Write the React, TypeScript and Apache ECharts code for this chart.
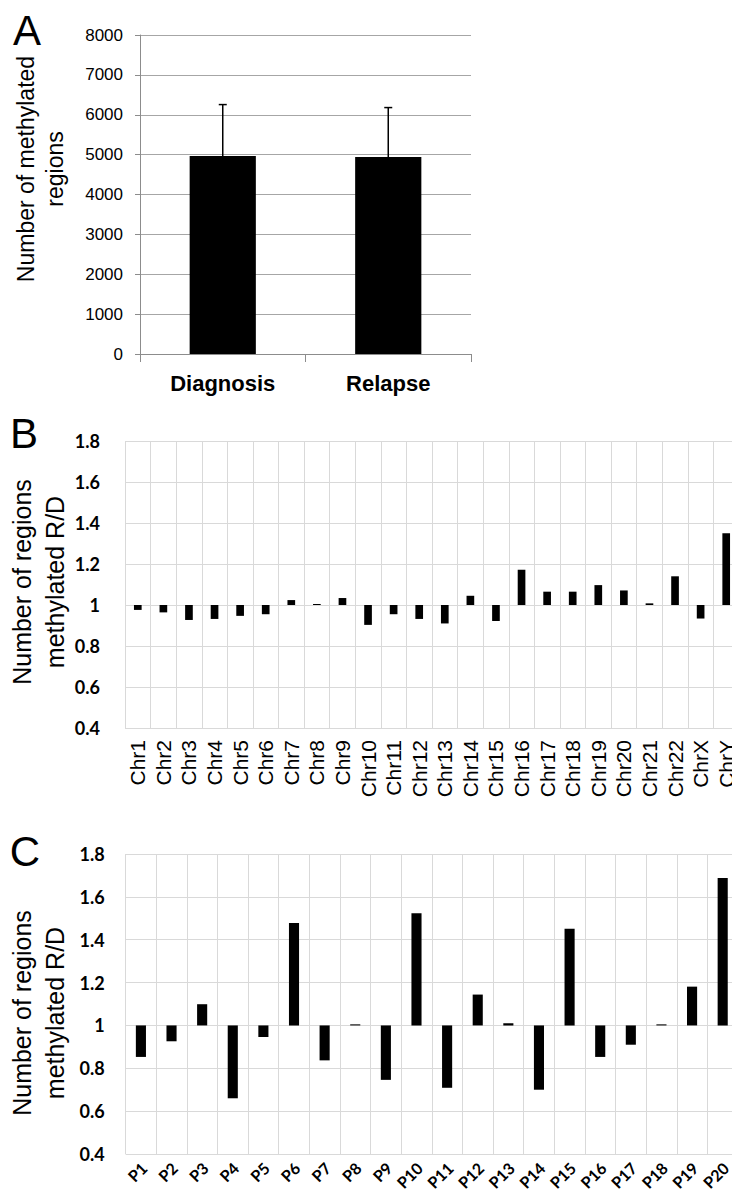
import React, { useEffect, useRef } from "react";
import * as echarts from "echarts";

const aCategories = ["Diagnosis", "Relapse"];
const aMeans = [4965, 4940];
const aErrors = [1290, 1240];

const bCategories = [
  "Chr1", "Chr2", "Chr3", "Chr4", "Chr5", "Chr6", "Chr7", "Chr8", "Chr9", "Chr10",
  "Chr11", "Chr12", "Chr13", "Chr14", "Chr15", "Chr16", "Chr17", "Chr18", "Chr19", "Chr20",
  "Chr21", "Chr22", "ChrX", "ChrY",
];
const bRatios = [
  0.976, 0.964, 0.927, 0.932, 0.947, 0.955, 1.024, 1.005, 1.034, 0.903,
  0.955, 0.932, 0.91, 1.045, 0.922, 1.172, 1.065, 1.065, 1.097, 1.071,
  1.008, 1.14, 0.934, 1.35,
];

const cCategories = [
  "P1", "P2", "P3", "P4", "P5", "P6", "P7", "P8", "P9", "P10",
  "P11", "P12", "P13", "P14", "P15", "P16", "P17", "P18", "P19", "P20",
];
const cRatios = [
  0.853, 0.926, 1.099, 0.66, 0.946, 1.478, 0.837, 1.005, 0.746, 1.523,
  0.709, 1.144, 1.01, 0.7, 1.451, 0.853, 0.91, 1.005, 1.181, 1.688,
];

const ratioBaseline = 1;
const ratioMin = 0.4;

const ARIAL = "'Liberation Sans', Arial, sans-serif";
const CALIBRI = "Lato, 'Noto Sans', sans-serif";

function ratioBar(widthRatio: number) {
  return (params: any, api: any) => {
    const i = api.value(0);
    const v = api.value(1);
    const p0 = api.coord([i, ratioBaseline]);
    const p1 = api.coord([i, v]);
    const w = api.size([1, 0])[0] * widthRatio;
    const h = Math.max(Math.abs(p1[1] - p0[1]), 1);
    return {
      type: "rect",
      shape: { x: p0[0] - w / 2, y: Math.min(p0[1], p1[1]), width: w, height: h },
      style: { fill: "#000" },
    };
  };
}

function vText(x: number, y: number, text: string, size: number) {
  return {
    type: "text",
    x,
    y,
    rotation: Math.PI / 2,
    style: { text, fontFamily: ARIAL, fontSize: size, fill: "#000", textAlign: "center", textVerticalAlign: "middle" },
  };
}

export default function App() {
  const ref = useRef<HTMLDivElement>(null);

  useEffect(() => {
    if (!ref.current) return;
    const chart = echarts.init(ref.current, null, { renderer: "svg" });

    const ratioYAxis = (gridIndex: number, margin: number) => ({
      type: "value",
      gridIndex,
      min: ratioMin,
      max: 1.8,
      interval: 0.2,
      axisLine: { show: false },
      axisTick: { show: false },
      axisLabel: {
        margin,
        color: "#000",
        fontFamily: CALIBRI,
        fontWeight: "bold",
        fontSize: 18,
      },
      splitLine: { show: true, lineStyle: { color: "#d9d9d9", width: 1 } },
    });

    const gridCommon = { containLabel: false, outerBoundsMode: "none" };

    const option: any = {
      animation: false,
      backgroundColor: "#fff",
      grid: [
        { ...gridCommon, left: 140, right: 261, top: 35, bottom: 845 },
        { ...gridCommon, left: 125, right: -7, top: 441, bottom: 471 },
        { ...gridCommon, left: 125.6, right: -6, top: 854, bottom: 45 },
      ],
      xAxis: [
        {
          type: "category",
          gridIndex: 0,
          data: aCategories,
          axisLine: { show: true, lineStyle: { color: "#8c8c8c", width: 1 } },
          axisTick: { show: true, length: 8, lineStyle: { color: "#8c8c8c" } },
          axisLabel: {
            margin: 18,
            color: "#000",
            fontFamily: ARIAL,
            fontWeight: "bold",
            fontSize: 22,
          },
        },
        {
          type: "category",
          gridIndex: 1,
          data: bCategories,
          axisLine: { show: false },
          axisTick: { show: false },
          splitLine: { show: true, interval: 0, lineStyle: { color: "#d9d9d9", width: 1 } },
          axisLabel: { show: false },
        },
        {
          type: "category",
          gridIndex: 2,
          data: cCategories,
          axisLine: { show: false },
          axisTick: { show: false },
          splitLine: { show: true, interval: 0, lineStyle: { color: "#d9d9d9", width: 1 } },
          axisLabel: { show: false },
        },
      ],
      yAxis: [
        {
          type: "value",
          gridIndex: 0,
          min: 0,
          max: 8000,
          interval: 1000,
          axisLine: { show: true, lineStyle: { color: "#8c8c8c", width: 1 } },
          axisTick: { show: true, length: 5, lineStyle: { color: "#8c8c8c" } },
          axisLabel: {
            margin: 17,
            color: "#000",
            fontFamily: ARIAL,
            fontSize: 17,
            formatter: (v: number) => String(v),
          },
          splitLine: { show: true, lineStyle: { color: "#a6a6a6", width: 1 } },
        },
        ratioYAxis(1, 25),
        ratioYAxis(2, 21),
      ],
      series: [
        {
          type: "bar",
          xAxisIndex: 0,
          yAxisIndex: 0,
          data: aMeans,
          barWidth: "40%",
          itemStyle: { color: "#000" },
          z: 2,
        },
        {
          type: "custom",
          xAxisIndex: 0,
          yAxisIndex: 0,
          z: 3,
          data: aMeans.map((m, i) => [i, m, aErrors[i]]),
          encode: { x: 0, y: 1 },
          renderItem: (params: any, api: any) => {
            const i = api.value(0);
            const m = api.value(1);
            const e = api.value(2);
            const base = api.coord([i, m]);
            const top = api.coord([i, m + e]);
            return {
              type: "group",
              children: [
                {
                  type: "line",
                  shape: { x1: base[0], y1: base[1], x2: top[0], y2: top[1] },
                  style: { stroke: "#000", lineWidth: 1.5 },
                },
                {
                  type: "line",
                  shape: { x1: top[0] - 4, y1: top[1], x2: top[0] + 4, y2: top[1] },
                  style: { stroke: "#000", lineWidth: 1.5 },
                },
              ],
            };
          },
        },
        {
          type: "custom",
          xAxisIndex: 1,
          yAxisIndex: 1,
          data: bRatios.map((v, i) => [i, v]),
          encode: { x: 0, y: 1 },
          renderItem: ratioBar(0.3),
        },
        {
          type: "custom",
          xAxisIndex: 2,
          yAxisIndex: 2,
          data: cRatios.map((v, i) => [i, v]),
          encode: { x: 0, y: 1 },
          renderItem: ratioBar(0.33),
        },
      ],
    };

    chart.setOption(option);

    // Category labels of panels B and C, placed with the axes' own scales.
    const bLabels = bCategories.map((cat) => {
      const p = chart.convertToPixel({ gridIndex: 1 } as any, [cat, ratioMin]) as number[];
      return {
        type: "text",
        x: p[0],
        y: p[1] + 12,
        rotation: Math.PI / 2,
        style: { text: cat, fontFamily: ARIAL, fontSize: 21, fill: "#000", textAlign: "right", textVerticalAlign: "middle" },
      };
    });
    const cLabels = cCategories.map((cat) => {
      const p = chart.convertToPixel({ gridIndex: 2 } as any, [cat, ratioMin]) as number[];
      return {
        type: "text",
        x: p[0] + 3,
        y: p[1] + 11,
        rotation: Math.PI / 4,
        style: { text: cat, fontFamily: CALIBRI, fontWeight: "bold", fontSize: 16, fill: "#000", textAlign: "right", textVerticalAlign: "middle" },
      };
    });

    chart.setOption({
      graphic: [
        { type: "text", x: 27, y: 30, style: { text: "A", fontFamily: ARIAL, fontSize: 42, fill: "#000", textAlign: "center", textVerticalAlign: "middle" } },
        { type: "text", x: 24, y: 433, style: { text: "B", fontFamily: ARIAL, fontSize: 42, fill: "#000", textAlign: "center", textVerticalAlign: "middle" } },
        { type: "text", x: 25, y: 851, style: { text: "C", fontFamily: ARIAL, fontSize: 42, fill: "#000", textAlign: "center", textVerticalAlign: "middle" } },
        vText(26, 169, "Number of methylated", 23),
        vText(55, 169, "regions", 23),
        vText(22, 582, "Number of regions", 25),
        vText(55, 582, "methylated R/D", 25),
        vText(22, 1013, "Number of regions", 25),
        vText(55, 1013, "methylated R/D", 25),
        ...bLabels,
        ...cLabels,
      ],
    });

    return () => chart.dispose();
  }, []);

  return (
    <div
      ref={ref}
      style={{ position: "absolute", left: 0, top: 0, width: 732, height: 1199, background: "#fff" }}
    />
  );
}
